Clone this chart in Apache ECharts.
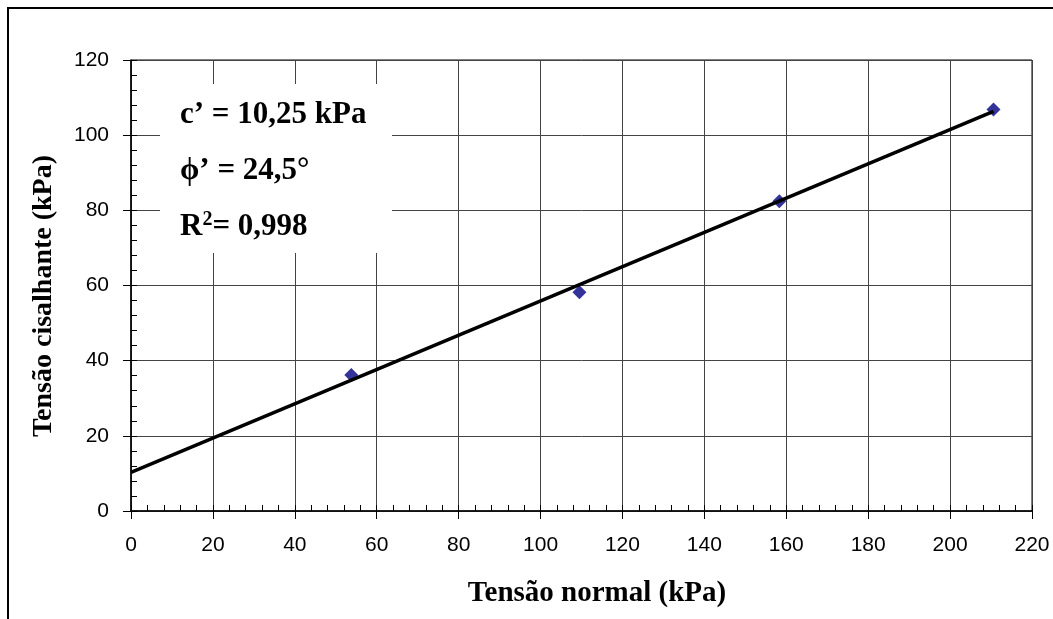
<!DOCTYPE html>
<html>
<head>
<meta charset="utf-8">
<title>Envoltória de resistência</title>
<script src="https://cdn.jsdelivr.net/npm/echarts@6/dist/echarts.min.js"></script>
<style>
  html, body { margin: 0; padding: 0; background: #fff; }
  #chart { width: 1053px; height: 619px; }
</style>
</head>
<body>
<div id="chart"></div>
<script>
// pontos do ensaio (tensão normal x tensão cisalhante, kPa)
const tensaoNormal = [53.8, 109.5, 158.3, 210.6]
const tensaoCisalhante = [36.2, 58.2, 82.4, 106.8]
// reta ajustada (extremos)
const retaX = [0, 210.6]
const retaY = [10.25, 106.3]
// textos do quadro (rich text para o expoente do R²)
const parametros = ['{b|c’ = 10,25 kPa}', '{b|ϕ’ = 24,5°}', '{b|R}{s|2}{b|= 0,998}']

const serif = '"Liberation Serif", "Times New Roman", serif'
const sans = '"Liberation Sans", Arial, sans-serif'

const chart = echarts.init(document.getElementById('chart'))

const pontos = tensaoNormal.map((x, i) => [x, tensaoCisalhante[i]])
const reta = retaX.map((x, i) => [x, retaY[i]])

// eixo principal: ticks para fora; eixo auxiliar: ticks menores para dentro
const xMain = {
  type: 'value', position: 'bottom', min: 0, max: 220, interval: 20,
  axisLine: {onZero: false, lineStyle: {color: '#000', width: 1.5}},
  axisTick: {inside: false, length: 8, lineStyle: {color: '#000'}},
  axisLabel: {color: '#000', fontSize: 21, fontFamily: sans, margin: 24},
  splitLine: {show: true, lineStyle: {color: '#444', width: 1}}
}
const xMinor = {
  type: 'value', position: 'bottom', min: 0, max: 220, interval: 4,
  axisLine: {show: false},
  axisTick: {inside: true, length: 6, lineStyle: {color: '#000'}},
  axisLabel: {show: false},
  splitLine: {show: false}
}
const yMain = {
  type: 'value', position: 'left', min: 0, max: 120, interval: 20,
  axisLine: {onZero: false, lineStyle: {color: '#000', width: 1.5}},
  axisTick: {inside: false, length: 8, lineStyle: {color: '#000'}},
  axisLabel: {color: '#000', fontSize: 21, fontFamily: sans, margin: 22},
  splitLine: {show: true, lineStyle: {color: '#444', width: 1}}
}
const yMinor = {
  type: 'value', position: 'left', min: 0, max: 120, interval: 4,
  axisLine: {show: false},
  axisTick: {inside: true, length: 6, lineStyle: {color: '#000'}},
  axisLabel: {show: false},
  splitLine: {show: false}
}

const option = {
  animation: false,
  backgroundColor: '#fff',
  grid: {
    left: 131, right: 21, top: 60, bottom: 108,
    show: true, borderColor: '#000', borderWidth: 1
  },
  xAxis: [xMain, xMinor],
  yAxis: [yMain, yMinor],
  series: [
    {
      name: 'Ensaios',
      type: 'scatter',
      xAxisIndex: 0, yAxisIndex: 0,
      symbol: 'diamond',
      symbolSize: [14, 14],
      itemStyle: {color: '#000080'},
      z: 3,
      data: pontos
    },
    {
      name: 'Ajuste',
      type: 'line',
      xAxisIndex: 0, yAxisIndex: 0,
      showSymbol: false,
      lineStyle: {color: '#000', width: 3.5},
      z: 4,
      data: reta
    }
  ],
  graphic: [
    // moldura externa
    {type: 'rect', shape: {x: 8, y: 8, width: 1200, height: 800},
      style: {fill: null, stroke: '#000', lineWidth: 2}, z: 1, silent: true},
    // quadro branco com os parâmetros
    {type: 'rect', shape: {x: 160, y: 84, width: 232, height: 169},
      style: {fill: '#fff'}, z: 10, silent: true},
    ...parametros.map((t, i) => ({
      type: 'text', x: 180, y: [115, 171, 227][i], z: 11, silent: true,
      style: {
        text: t, textAlign: 'left', textVerticalAlign: 'middle',
        rich: {
          b: {fontFamily: serif, fontWeight: 'bold', fontSize: 31, color: '#000', lineHeight: 34},
          s: {fontFamily: serif, fontWeight: 'bold', fontSize: 20, color: '#000',
            verticalAlign: 'top', lineHeight: 34, padding: [0, 0, 12, 0]}
        }
      }
    })),
    // títulos dos eixos
    {type: 'text', x: 597, y: 594, z: 11, silent: true,
      style: {text: 'Tensão normal (kPa)', font: 'bold 29px ' + serif, fill: '#000',
        textAlign: 'center', textVerticalAlign: 'middle'}},
    {type: 'text', x: 44, y: 296, rotation: Math.PI / 2, z: 11, silent: true,
      style: {text: 'Tensão cisalhante (kPa)', font: 'bold 28px ' + serif, fill: '#000',
        textAlign: 'center', textVerticalAlign: 'middle'}}
  ]
}

chart.setOption(option)
</script>
</body>
</html>
